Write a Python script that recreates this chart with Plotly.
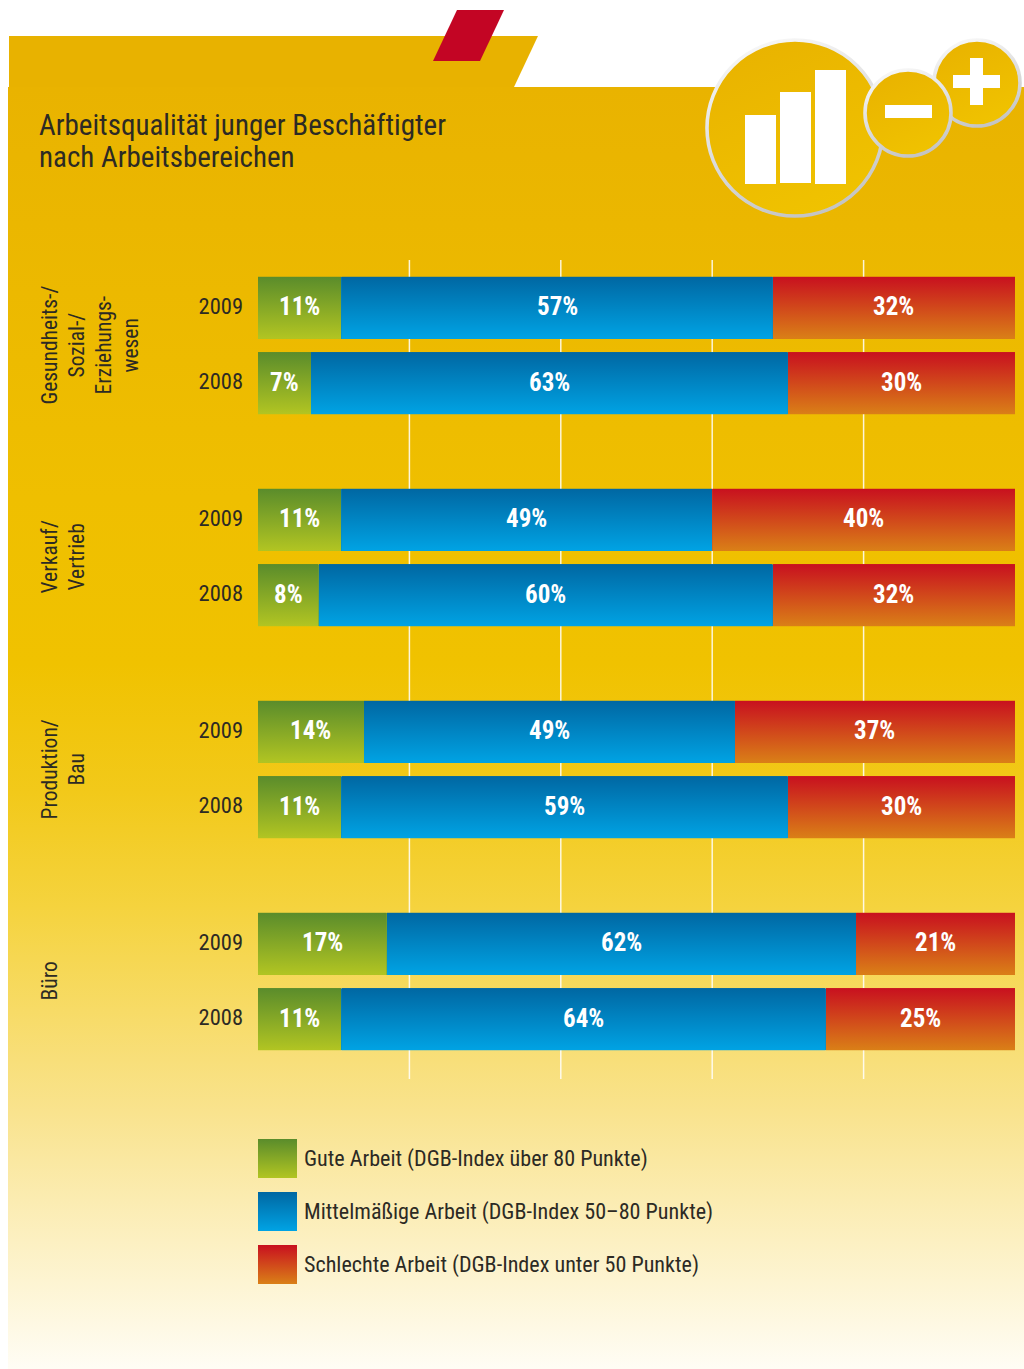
import base64
import plotly.graph_objects as go

W, H = 1024, 1369

# ---- data ----
group_labels = [
    ["Gesundheits-/", "Sozial-/", "Erziehungs-", "wesen"],
    ["Verkauf/", "Vertrieb"],
    ["Produktion/", "Bau"],
    ["Büro"],
]
years = ["2009", "2008"]
series_names = ["Gute Arbeit", "Mittelmäßige Arbeit", "Schlechte Arbeit"]
legend_labels = [
    "Gute Arbeit (DGB-Index über 80 Punkte)",
    "Mittelmäßige Arbeit (DGB-Index 50–80 Punkte)",
    "Schlechte Arbeit (DGB-Index unter 50 Punkte)",
]
gute = [[11, 7], [11, 8], [14, 11], [17, 11]]
mittel = [[57, 63], [49, 60], [49, 59], [62, 64]]
schlecht = [[32, 30], [40, 32], [37, 30], [21, 25]]
x_grid = [20, 40, 60, 80]
title_lines = ["Arbeitsqualität junger Beschäftigter", "nach Arbeitsbereichen"]

# ---- style ----
FONT = "Roboto Condensed"
DARK = "#2c2a24"
grads = [("#5a8c2b", "#b2c522"), ("#0067a2", "#00a3e4"), ("#c8101f", "#da8017")]
mids = ["#85a826", "#0085c3", "#d1481b"]
group_tops = [270, 482, 694, 906]
group_h = 151


def uri(svg):
    return "data:image/svg+xml;base64," + base64.b64encode(svg.encode()).decode()


def vgrad(c0, c1):
    return uri(
        '<svg xmlns="http://www.w3.org/2000/svg" width="40" height="40" preserveAspectRatio="none">'
        f'<defs><linearGradient id="g" x1="0" y1="0" x2="0" y2="1"><stop offset="0" stop-color="{c0}"/>'
        f'<stop offset="1" stop-color="{c1}"/></linearGradient></defs>'
        '<rect width="40" height="40" fill="url(#g)"/></svg>'
    )


def px(v):
    return v / W


def py(v):
    return 1 - v / H


bg_svg = uri(
    f'<svg xmlns="http://www.w3.org/2000/svg" width="{W-8}" height="{H-87}" preserveAspectRatio="none">'
    '<defs><linearGradient id="g" x1="0" y1="0" x2="0" y2="1">'
    '<stop offset="0" stop-color="#e9b300"/><stop offset="0.32" stop-color="#efbf00"/>'
    '<stop offset="0.45" stop-color="#f0c200"/><stop offset="0.55" stop-color="#f2c91a"/>'
    '<stop offset="0.64" stop-color="#f5d33e"/>'
    '<stop offset="0.8" stop-color="#f9e38e"/><stop offset="1" stop-color="#fffdf5"/>'
    f'</linearGradient></defs><rect width="{W-8}" height="{H-87}" fill="url(#g)"/></svg>'
)


def circ(cx, cy, r):
    return (
        f'<circle cx="{cx}" cy="{cy}" r="{r-2}" fill="url(#f)" stroke="url(#s)" stroke-width="3.6"/>'
    )


icon_x, icon_y, icon_w, icon_h = 700, 34, 324, 190
icon_svg = uri(
    f'<svg xmlns="http://www.w3.org/2000/svg" width="{icon_w}" height="{icon_h}" '
    f'viewBox="{icon_x} {icon_y} {icon_w} {icon_h}">'
    '<defs><linearGradient id="f" x1="0.25" y1="0" x2="0.7" y2="1"><stop offset="0" stop-color="#e9b300"/>'
    '<stop offset="1" stop-color="#f0c300"/></linearGradient>'
    '<linearGradient id="s" x1="0.25" y1="0" x2="0.6" y2="1"><stop offset="0" stop-color="#f8f8f8"/>'
    '<stop offset="1" stop-color="#c4c4c4"/></linearGradient></defs>'
    + circ(795, 128, 90)
    + circ(977, 83, 45)
    + circ(908, 113, 45)
    + '<g fill="#fff"><rect x="745" y="115" width="31" height="69"/>'
    '<rect x="780" y="92" width="31" height="91"/><rect x="815" y="70" width="31" height="114"/>'
    '<rect x="885" y="105" width="47" height="13"/><rect x="953" y="75" width="47" height="13"/>'
    '<rect x="970" y="58" width="13" height="47"/></g></svg>'
)

fig = go.Figure()
images, annotations, shapes = [], [], []

images.append(dict(source=bg_svg, xref="paper", yref="paper", x=px(8), y=py(87), sizex=px(W - 8),
                   sizey=(H - 87) / H, sizing="stretch", layer="below", xanchor="left", yanchor="top"))

# Header
shapes.append(dict(type="path", xref="paper", yref="paper", layer="below", line_width=0, fillcolor="#e8b200",
                   path=f"M{px(9)},{py(36)} L{px(538)},{py(36)} L{px(514)},{py(87)} L{px(9)},{py(87)} Z"))
shapes.append(dict(type="path", xref="paper", yref="paper", layer="below", line_width=0, fillcolor="#c30524",
                   path=f"M{px(457)},{py(10)} L{px(504)},{py(10)} L{px(480)},{py(61)} L{px(433)},{py(61)} Z"))

for line, ybase in zip(title_lines, [125, 157]):
    annotations.append(dict(text=line, xref="paper", yref="paper", x=px(37), y=py(ybase), xanchor="left",
                            yanchor="middle", showarrow=False, font=dict(family=FONT, size=29, color=DARK)))

# Grid
for g in x_grid:
    shapes.append(dict(type="line", xref="x", yref="paper", x0=g, x1=g, y0=py(260), y1=py(1079), layer="below",
                       line=dict(color="rgba(255,255,255,0.85)", width=1.5)))

# Bars
series = [gute, mittel, schlecht]
bargap = 1 - 61.5 / 75.5
for gi, top in enumerate(group_tops):
    yname = "y" if gi == 0 else f"y{gi+1}"
    for si, vals in enumerate(series):
        fig.add_trace(go.Bar(orientation="h", y=years, x=vals[gi], name=series_names[si], yaxis=yname, xaxis="x",
                             marker=dict(color=mids[si], line_width=0), showlegend=False))
    for yi, year in enumerate(years):
        start = 0
        cat = 1 - yi  # 2009 sits above 2008
        for si, vals in enumerate(series):
            v = vals[gi][yi]
            images.append(dict(source=vgrad(*grads[si]), xref="x", yref=yname, x=start, sizex=v,
                               y=cat + (1 - bargap) / 2 + 0.006, sizey=1 - bargap + 0.012, sizing="stretch",
                               layer="above", xanchor="left", yanchor="top"))
            annotations.append(dict(text=f"{v}%", xref="paper", yref="paper", x=px(258 + 7.57 * (start + v / 2)),
                                    y=py(top + group_h * (0.25 + 0.5 * yi) - 1), xanchor="center", yanchor="middle",
                                    showarrow=False, font=dict(family=FONT, size=25, color="white", weight="bold")))
            start += v
    # category label columns
    center = py(top + group_h / 2)
    for li, line in enumerate(group_labels[gi]):
        annotations.append(dict(text=line, xref="paper", yref="paper", x=px(49 + 27 * li), y=center, textangle=-90,
                                xanchor="center", yanchor="middle", showarrow=False,
                                font=dict(family=FONT, size=21.5, color=DARK)))

# Legend
for li, label in enumerate(legend_labels):
    t = 1139 + 53 * li
    images.append(dict(source=vgrad(*grads[li]), xref="paper", yref="paper", x=px(258), y=py(t), sizex=px(39),
                       sizey=39 / H, sizing="stretch", layer="below", xanchor="left", yanchor="top"))
    annotations.append(dict(text=label, xref="paper", yref="paper", x=px(302), y=py(t + 19), xanchor="left",
                            yanchor="middle", showarrow=False, font=dict(family=FONT, size=22.1, color=DARK)))

images.append(dict(source=icon_svg, xref="paper", yref="paper", x=px(icon_x), y=py(icon_y), sizex=px(icon_w),
                   sizey=icon_h / H, sizing="stretch", layer="below", xanchor="left", yanchor="top"))

layout = dict(
    width=W, height=H, margin=dict(l=0, r=0, t=0, b=0), paper_bgcolor="white", plot_bgcolor="rgba(0,0,0,0)",
    barmode="stack", bargap=bargap, images=images, shapes=shapes, annotations=annotations,
    xaxis=dict(domain=[px(258), px(1015)], range=[0, 100], visible=False, fixedrange=True, anchor="y4"),
)
for gi, top in enumerate(group_tops):
    key = "yaxis" if gi == 0 else f"yaxis{gi+1}"
    layout[key] = dict(domain=[py(top + group_h), py(top)], type="category", categoryorder="array",
                       categoryarray=["2008", "2009"], range=[-0.5, 1.5], anchor="x", showgrid=False, zeroline=False,
                       showline=False, ticks="", ticklabelstandoff=14, ticklabelshift=-2, fixedrange=True,
                       tickfont=dict(family=FONT, size=22.5, color=DARK))
fig.update_layout(**layout)
fig.write_html("out.html", config={"displayModeBar": False},
               post_script="document.body.style.margin='0';document.documentElement.style.overflow='hidden';")
